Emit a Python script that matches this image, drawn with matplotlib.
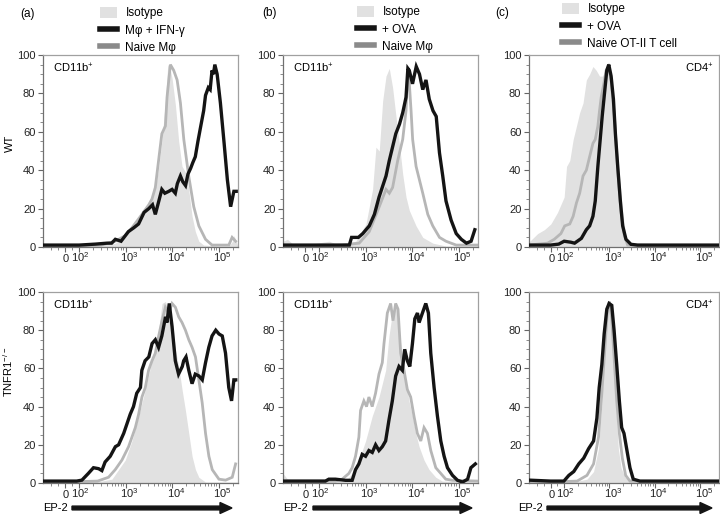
import matplotlib
matplotlib.use('Agg')
import matplotlib.pyplot as plt
import matplotlib.transforms as mtransforms
import numpy as np
from matplotlib.patches import Patch, FancyArrow
from matplotlib.lines import Line2D
from matplotlib.ticker import FixedLocator, FixedFormatter, MultipleLocator

plt.rcParams['font.family'] = ['Liberation Sans', 'DejaVu Sans']
plt.rcParams['mathtext.fontset'] = 'custom'
plt.rcParams['mathtext.rm'] = 'Liberation Sans'

W, H = 720, 521
ISO_C = '#e1e1e1'
NAIVE_C = '#b6b6b6'
TREAT_C = '#141414'

# ---- data: EP-2 intensity (x) vs % of max (y) ----
# (a) WT macrophages
a_wt_iso_x = [-150, 0, 300, 600, 980, 1370, 1910, 2660, 3700, 4365, 5130, 6030, 7190, 8100, 9200, 10000,
              11800, 13900, 16400, 19400, 22800, 27000, 31700, 37700, 48000, 100000, 166000, 200000, 214000, 240000, 262000]
a_wt_iso_y = [0.5, 0.5, 1, 2, 6, 9, 15, 20, 27, 30, 41, 55, 76, 95, 92, 88, 74, 55, 42, 39, 30, 16, 8, 3, 1, 0.5, 0.5, 3, 6, 3, 0]
a_wt_naive_x = [-150, 0, 300, 600, 1000, 1370, 2250, 3160, 3700, 4365, 5130, 6030, 7190, 7800, 9200, 10850,
                12850, 15150, 17900, 22800, 29300, 37700, 52500, 72600, 166000, 196000, 233000]
a_wt_naive_y = [0.5, 0.5, 1, 3, 6, 10, 17, 22, 25, 31, 45, 59, 63, 78, 95, 92, 87, 75, 56, 37, 21, 11, 4, 1, 1, 5, 3]
a_wt_ifn_x = [-150, 0, 100, 224, 400, 501, 603, 800, 1148, 1500, 1905, 2500, 3162, 3800, 4365, 5200, 6026, 7000,
              8511, 10000, 11749, 13000, 15136, 17000, 19498, 22000, 25119, 28000, 31623, 36000, 40738, 47863,
              52481, 60256, 66000, 72444, 78000, 83176, 93325, 109648, 131826, 154882, 181970, 213796, 239883]
a_wt_ifn_y = [1, 1, 1, 1.5, 2, 2, 4, 3, 8, 10, 12, 18, 20, 22, 17, 24, 30, 28,
              29, 30, 28, 33, 37, 34, 32, 38, 41, 44, 47, 55, 62, 71,
              79, 83, 82, 92, 90, 95, 90, 75, 54, 35, 21, 29, 29]

# (a) TNFR1-/- macrophages
a_ko_iso_x = [-150, 0, 300, 508, 706, 984, 1370, 1910, 2660, 3700, 5160, 6090, 7190, 8490, 10000, 11800,
              13900, 16400, 19400, 22900, 27000, 31900, 37700, 52500, 262000]
a_ko_iso_y = [0.5, 0.5, 1, 2, 7, 12, 22, 35, 49, 64, 80, 94, 95, 90, 85, 70, 61, 49, 38, 26, 14, 7, 3, 0.5, 0.5]
a_ko_naive_x = [-150, 0, 250, 430, 600, 835, 1160, 1620, 1910, 2250, 2660, 3130, 3700, 4370, 5160, 6090, 7190,
                8490, 10000, 11800, 13900, 16400, 19400, 22900, 27000, 31900, 37700, 44500, 52500, 62000,
                73200, 102000, 142000, 197000, 233000]
a_ko_naive_y = [0.5, 0.5, 1, 3, 7, 12, 19, 29, 36, 45, 50, 59, 64, 68, 77, 85, 92,
                89, 94, 92, 87, 84, 80, 75, 71, 66, 54, 42, 26, 14,
                7, 2, 1.5, 3, 10]
a_ko_ifn_x = [-150, 0, 83, 115, 158, 204, 263, 309, 363, 468, 603, 708, 912, 1072, 1259, 1479, 1738, 2089,
              2239, 2630, 3162, 3715, 4365, 5129, 6026, 7244, 7762, 8710, 10000, 11749, 13804, 16596, 17783,
              19953, 22909, 26915, 31623, 38019, 44668, 52481, 61660, 72444, 87096, 102329, 120226, 141254,
              165959, 190546, 213796, 234423]
a_ko_ifn_y = [1, 1, 1, 1.5, 5, 8, 7.5, 6.5, 11, 14, 19, 20, 26, 31, 36, 40, 47, 50,
              59, 64, 66, 73, 75, 71, 77, 87, 84, 94, 82, 64, 57, 61, 64,
              66, 59, 52, 57, 56, 54, 63, 71, 77, 80, 78, 77, 68,
              50, 43, 54, 54]

# (b) WT macrophages + OVA
b_wt_iso_x = [-150, -120, -80, 0, 165, 270, 618, 1020, 1415, 1670, 1970, 2330, 2750, 3240, 3820, 4510, 5320,
              6290, 7420, 8750, 12200, 17000, 28000, 54000, 262000]
b_wt_iso_y = [3, 4, 1, 1, 3, 1, 3, 12, 30, 52, 50, 76, 89, 93, 83, 68, 54, 38, 26, 19, 11, 5, 2, 0.5, 0.5]
b_wt_naive_x = [-150, 0, 300, 730, 1200, 1970, 2750, 3240, 3820, 4910, 6290, 7420, 8100, 8750, 9520, 10300,
                12200, 14400, 17000, 21800, 27900, 38900, 53700, 89000, 262000]
b_wt_naive_y = [0.5, 0.5, 1, 2, 8, 21, 30, 28, 31, 45, 56, 71, 92, 85, 71, 56, 42, 35, 28, 17, 11, 5, 3, 1, 1]
b_wt_ova_x = [-150, 0, 300, 447, 500, 700, 871, 1202, 1549, 1950, 2754, 3236, 3802, 4467, 5370, 6310, 7413,
              8128, 8710, 10233, 12303, 14454, 16982, 19953, 23442, 28184, 33113, 38905, 45709, 53703, 69183,
              89125, 114815, 147911, 186209, 223872]
b_wt_ova_y = [1, 1, 1, 1, 5, 5, 7, 11, 17, 26, 37, 45, 52, 59, 64, 70, 78,
              93, 92, 85, 94, 90, 82, 87, 77, 71, 68, 49, 37, 24, 14,
              7, 4, 2, 3, 9]

# (b) TNFR1-/- macrophages + OVA
b_ko_iso_x = [-150, -120, 0, 372, 515, 718, 1000, 1390, 1940, 2290, 2700, 3190, 3760, 4440, 5240, 6180, 7290,
              8600, 10200, 12000, 14200, 18100, 23300, 32400, 44700, 262000]
b_ko_iso_y = [5, 2, 1, 1, 5, 12, 22, 35, 45, 52, 59, 77, 89, 94, 82, 64, 54, 43, 35, 26, 19, 12, 7, 3, 1, 0.5]
b_ko_naive_x = [-150, 0, 150, 225, 314, 437, 515, 608, 718, 780, 920, 1050, 1180, 1390, 1640, 1940, 2290, 2490,
                2940, 3460, 3890, 4440, 4990, 5690, 6720, 7910, 9340, 11000, 13000, 15400, 18100, 21400,
                25300, 32400, 41500, 53100, 74100, 262000]
b_ko_naive_y = [1, 1, 1, 1, 2, 5, 8, 14, 24, 38, 43, 40, 45, 40, 47, 57, 63, 73,
                89, 94, 85, 94, 91, 68, 59, 49, 45, 35, 26, 22, 29, 26,
                17, 8, 5, 2, 1.4, 1]
b_ko_ova_x = [-150, 0, 137, 162, 224, 372, 515, 608, 718, 847, 1000, 1180, 1393, 1644, 1940, 2289, 2701, 3188,
              3762, 4439, 5239, 6182, 6942, 7914, 8932, 10190, 11473, 13070, 14170, 16720, 19730, 22490,
              25250, 29800, 35160, 41490, 48960, 57770, 74130, 95230, 122100, 156700, 184400, 230000]
b_ko_ova_y = [1, 1, 1, 2, 2, 1.4, 1.4, 7, 10, 15, 14, 17, 16, 20, 17, 19, 22, 33,
              43, 56, 61, 59, 70, 64, 61, 73, 86, 89, 84, 89, 94, 89,
              68, 50, 35, 22, 14, 8, 4, 1.4, 0.5, 2, 8, 10]

# (c) WT OT-II T cells
c_wt_iso_x = [-150, -144, -95, -46, 2, 51, 100, 113, 133, 158, 187, 220, 261, 309, 365, 432, 511, 604, 715,
              845, 1000, 1183, 1399, 1655, 1959, 2317, 2740, 262000]
c_wt_iso_y = [2, 3, 7, 9, 12, 18, 26, 42, 45, 56, 63, 70, 75, 87, 90, 94, 92, 89, 89,
              94, 89, 77, 59, 38, 18, 5, 1, 0.5]
c_wt_naive_x = [-150, -22, 27, 76, 103, 133, 158, 187, 220, 261, 309, 365, 432, 486, 555, 604, 657, 751, 845,
                951, 1088, 1286, 1522, 1800, 2130, 2520, 262000]
c_wt_naive_y = [1, 2, 4, 7, 11, 12, 16, 23, 28, 37, 40, 47, 54, 56, 63, 71, 78, 85, 92,
                94, 87, 68, 40, 18, 6, 1, 0.5]
c_wt_ova_x = [-150, 0, 60, 100, 140, 170, 240, 309, 365, 432, 486, 555, 625, 691, 777, 874, 967, 1088, 1224,
              1353, 1522, 1741, 1959, 2317, 2978, 4168, 30000, 262000]
c_wt_ova_y = [1, 1, 1.5, 3, 2.5, 2, 4.5, 9, 11, 16, 24, 42, 56, 68, 80, 92, 95, 89, 77,
              59, 42, 24, 11, 4, 1.4, 1, 1, 1]

# (c) TNFR1-/- OT-II T cells
c_ko_iso_x = [-150, 0, 200, 319, 446, 574, 679, 777, 874, 951, 1070, 1223, 1400, 1574, 1800, 2200, 2835, 262000]
c_ko_iso_y = [0.5, 0.5, 1, 2, 6, 18, 41, 73, 91, 95, 91, 64, 38, 18, 8, 3, 1, 0.5]
c_ko_naive_x = [-150, 0, 193, 319, 446, 574, 679, 804, 904, 1000, 1125, 1265, 1447, 1655, 1925, 2278, 2835, 262000]
c_ko_naive_y = [0.5, 0.5, 1, 4, 10, 24, 47, 73, 91, 95, 86, 66, 43, 26, 13, 4, 1, 0.5]
c_ko_ova_x = [-150, 0, 98, 127, 163, 210, 270, 347, 446, 528, 594, 679, 764, 874, 983, 1125, 1265, 1447, 1655,
              1861, 2094, 2395, 2835, 3355, 4692, 262000]
c_ko_ova_y = [1.5, 1, 1, 4, 6, 10, 13, 18, 22, 34, 50, 62, 78, 91, 94, 93, 80, 62, 43,
              29, 26, 18, 8, 2, 1, 1]

legend_a = ['Isotype', 'Mφ + IFN-γ', 'Naive Mφ']
legend_b = ['Isotype', '+ OVA', 'Naive Mφ']
legend_c = ['Isotype', '+ OVA', 'Naive OT-II T cell']

x_major = [0, 1e2, 1e3, 1e4, 1e5]
x_labels = ['0', r'$\mathregular{10^2}$', r'$\mathregular{10^3}$', r'$\mathregular{10^4}$', r'$\mathregular{10^5}$']
x_label_shift = [1, 1, 4, 4, 4]   # px nudge of the printed labels
x_minor = [-100, -50, 50] + [k * 10 ** n for n in (2, 3, 4) for k in range(2, 10)] + [2e5]

fig = plt.figure(figsize=(W / 100, H / 100), dpi=100)


def px_axes(l, t, r, b):
    return fig.add_axes([l / W, 1 - b / H, (r - l) / W, (b - t) / H])


def draw_hist(ax, iso, naive, treat, tag, tag_right=False):
    ax.fill_between(iso[0], 0, iso[1], color=ISO_C, lw=0, zorder=1)
    ax.plot(naive[0], naive[1], color=NAIVE_C, lw=2.0, zorder=2, solid_joinstyle='miter')
    ax.plot(treat[0], treat[1], color=TREAT_C, lw=2.4, zorder=3, solid_joinstyle='miter')
    ax.set_xscale('symlog', linthresh=100, linscale=0.27)
    ax.set_xlim(-150, 262143)
    ax.set_ylim(0, 100)
    ax.xaxis.set_major_locator(FixedLocator(x_major))
    ax.xaxis.set_major_formatter(FixedFormatter(x_labels))
    ax.xaxis.set_minor_locator(FixedLocator(x_minor))
    ax.xaxis.set_minor_formatter(FixedFormatter([]))
    ax.yaxis.set_major_locator(MultipleLocator(20))
    ax.yaxis.set_minor_locator(MultipleLocator(5))
    ax.tick_params(which='major', length=3.5, width=0.8, color='#666666', labelsize=8, pad=2,
                   labelcolor='#222222')
    ax.tick_params(axis='x', which='major', pad=7.5)
    ax.tick_params(which='minor', length=2, width=0.6, color='#777777')
    for lab, dx in zip(ax.get_xticklabels(), x_label_shift):
        lab.set_verticalalignment('baseline')
        lab.set_transform(lab.get_transform() +
                          mtransforms.ScaledTranslation(dx / 100, 0, fig.dpi_scale_trans))
    for s in ('top', 'right'):
        ax.spines[s].set_color('#a0a0a0')
        ax.spines[s].set_linewidth(0.9)
    for s in ('left', 'bottom'):
        ax.spines[s].set_color('#707070')
        ax.spines[s].set_linewidth(0.9)
    if tag_right:
        ax.text(0.97, 0.93, tag, transform=ax.transAxes, ha='right', va='center', fontsize=8)
    else:
        ax.text(0.05, 0.93, tag, transform=ax.transAxes, ha='left', va='center', fontsize=8)


cols = [(43, 238), (283, 478), (529, 719)]
rows = [(55, 247), (292, 483)]
cd11b = r'$\mathregular{CD11b^{+}}$'
cd4 = r'$\mathregular{CD4^{+}}$'

panels = [
    (0, 0, (a_wt_iso_x, a_wt_iso_y), (a_wt_naive_x, a_wt_naive_y), (a_wt_ifn_x, a_wt_ifn_y), cd11b, False),
    (1, 0, (a_ko_iso_x, a_ko_iso_y), (a_ko_naive_x, a_ko_naive_y), (a_ko_ifn_x, a_ko_ifn_y), cd11b, False),
    (0, 1, (b_wt_iso_x, b_wt_iso_y), (b_wt_naive_x, b_wt_naive_y), (b_wt_ova_x, b_wt_ova_y), cd11b, False),
    (1, 1, (b_ko_iso_x, b_ko_iso_y), (b_ko_naive_x, b_ko_naive_y), (b_ko_ova_x, b_ko_ova_y), cd11b, False),
    (0, 2, (c_wt_iso_x, c_wt_iso_y), (c_wt_naive_x, c_wt_naive_y), (c_wt_ova_x, c_wt_ova_y), cd4, True),
    (1, 2, (c_ko_iso_x, c_ko_iso_y), (c_ko_naive_x, c_ko_naive_y), (c_ko_ova_x, c_ko_ova_y), cd4, True),
]

axes = {}
for r, c, iso, naive, treat, tag, right in panels:
    l, rr = cols[c]
    t, b = rows[r]
    ax = px_axes(l, t, rr, b)
    draw_hist(ax, iso, naive, treat, tag, right)
    axes[(r, c)] = ax

axes[(0, 0)].set_ylabel('WT', fontsize=8)
axes[(0, 0)].yaxis.set_label_coords(-0.145, 0.54)
axes[(1, 0)].set_ylabel(r'$\mathregular{TNFR1^{-/-}}$', fontsize=8)
axes[(1, 0)].yaxis.set_label_coords(-0.145, 0.58)

# panel letters
for txt, x, y in [('(a)', 20, 14), ('(b)', 262, 13), ('(c)', 495, 13)]:
    fig.text(x / W, 1 - y / H, txt, fontsize=8.5, va='center', ha='left')

# legends
handles = [Patch(facecolor=ISO_C, edgecolor='none'),
           Line2D([], [], color=TREAT_C, lw=4),
           Line2D([], [], color='#8a8a8a', lw=4)]
for labels, (x, y) in [(legend_a, (100, 7)), (legend_b, (357, 6)), (legend_c, (562, 3))]:
    fig.legend(handles, labels, loc='upper left', bbox_to_anchor=(x / W, 1 - y / H),
               frameon=False, fontsize=8.5, handlelength=1.45, handleheight=1.0,
               handletextpad=0.7, labelspacing=0.42, borderpad=0, borderaxespad=0)

# EP-2 arrows under bottom row
for tx, x0, x1 in [(43, 72, 232), (283, 313, 472), (518, 547, 712)]:
    fig.text(tx / W, 1 - 508 / H, 'EP-2', fontsize=8, va='center', ha='left')
    arr = FancyArrow(x0 / 100, 13 / 100, (x1 - x0) / 100, 0, width=0.038, head_width=0.11,
                     head_length=0.12, length_includes_head=True, color=TREAT_C,
                     transform=fig.dpi_scale_trans)
    fig.add_artist(arr)

fig.savefig('out.png', dpi=100)
